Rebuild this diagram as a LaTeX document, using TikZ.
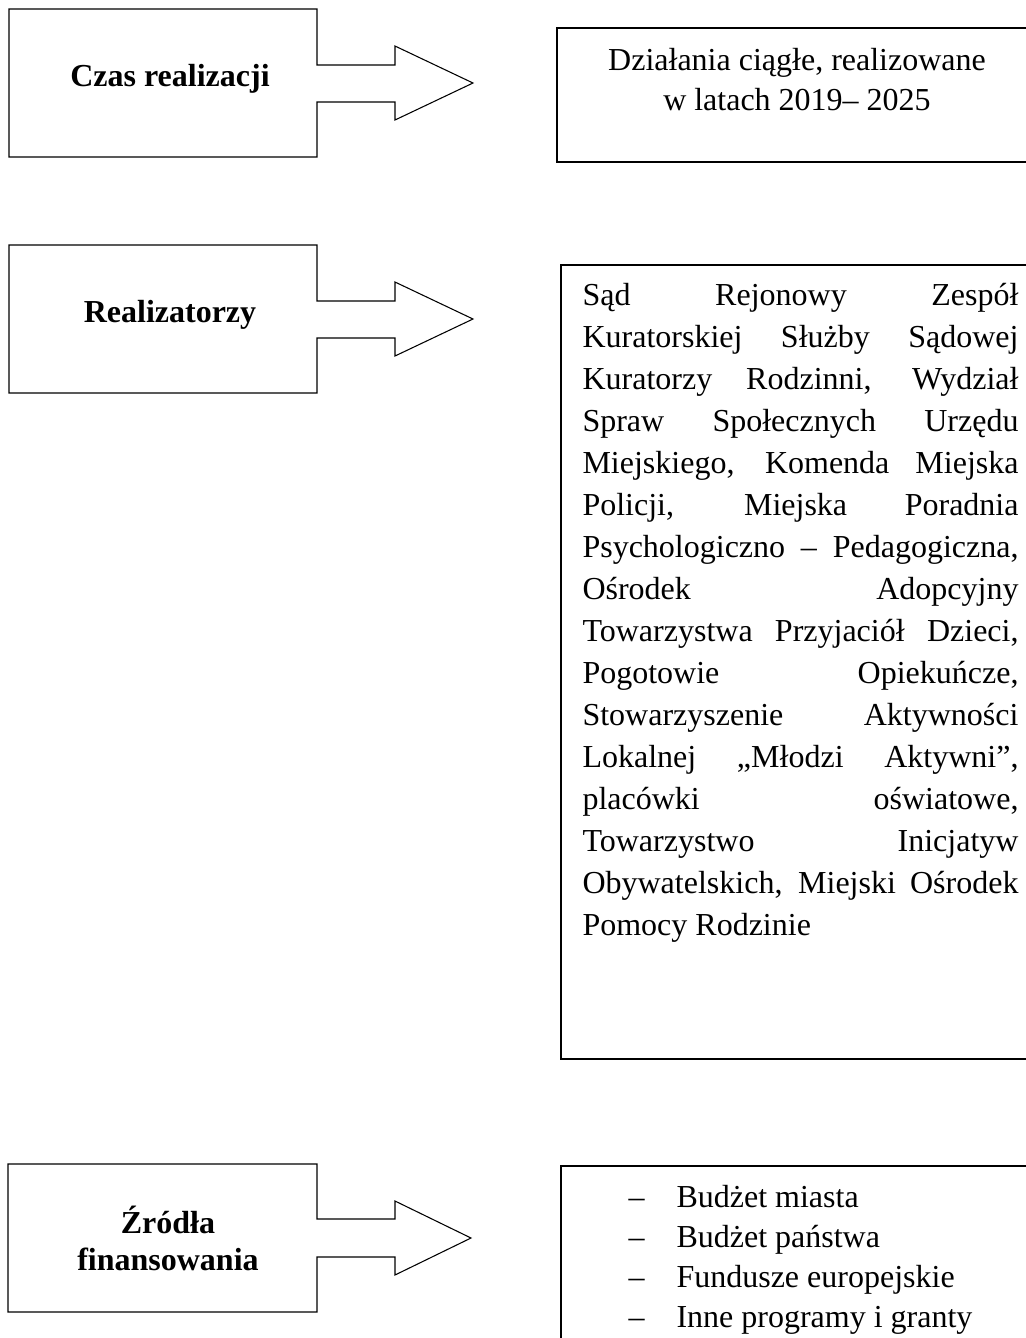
\documentclass[tikz,border=0pt,12pt]{standalone}
\usepackage{fontspec}
\setmainfont{Liberation Serif}
\newcommand{\jline}[1]{\makebox[163.5pt][s]{#1}}

\begin{document}
\begin{tikzpicture}[x=0.375pt, y=-0.375pt,
    arrowbox/.style={draw, line width=0.4pt},
    infobox/.style={draw, line width=0.75pt},
    every node/.style={inner sep=0pt}]
    \useasboundingbox (0,0) rectangle (1026,1338);
    \clip (0,0) rectangle (1026,1338);

    % Block arrows on the left
    \draw[arrowbox] (9,9) -- (317,9) -- (317,65) -- (395,65) -- (395,46) -- (473,83)
        -- (395,120) -- (395,102) -- (317,102) -- (317,157) -- (9,157) -- cycle;
    \draw[arrowbox] (9,245) -- (317,245) -- (317,301) -- (395,301) -- (395,282) -- (473,319)
        -- (395,356) -- (395,338) -- (317,338) -- (317,393) -- (9,393) -- cycle;
    \draw[arrowbox] (8,1164) -- (317,1164) -- (317,1219) -- (395,1219) -- (395,1201) -- (471,1238)
        -- (395,1275) -- (395,1257) -- (317,1257) -- (317,1312) -- (8,1312) -- cycle;

    % Boxes on the right, cut by the page edge
    \draw[infobox] (557,28) rectangle (1040,162);
    \draw[infobox] (561,265) rectangle (1040,1059);
    \draw[infobox] (561,1166) rectangle (1040,1350);

    % Labels
    \node[anchor=base, font=\bfseries] (czas) at (170,86) {Czas realizacji};
    \node[anchor=base, font=\bfseries] (realiz) at (170,322) {Realizatorzy};
    \node[anchor=north, align=center, font=\fontsize{12}{13.9}\selectfont\bfseries] (zrodla)
        at (168,1205) {\rule{0pt}{9pt}Źródła\\finansowania};

    % Contents
    \node[anchor=north, align=center, font=\fontsize{12}{15}\selectfont] (czasinfo)
        at (797,46) {\rule{0pt}{9pt}Działania ciągłe, realizowane\\w latach 2019– 2025};
    \node[anchor=north west, align=left, font=\fontsize{12}{15.75}\selectfont] (realizinfo)
        at (582,281) {\rule{0pt}{9pt}\jline{Sąd Rejonowy Zespół}\\
        \jline{Kuratorskiej Służby Sądowej}\\
        \jline{Kuratorzy Rodzinni, Wydział}\\
        \jline{Spraw Społecznych Urzędu}\\
        \jline{Miejskiego, Komenda Miejska}\\
        \jline{Policji, Miejska Poradnia}\\
        \jline{Psychologiczno – Pedagogiczna,}\\
        \jline{Ośrodek Adopcyjny}\\
        \jline{Towarzystwa Przyjaciół Dzieci,}\\
        \jline{Pogotowie Opiekuńcze,}\\
        \jline{Stowarzyszenie Aktywności}\\
        \jline{Lokalnej „Młodzi Aktywni”,}\\
        \jline{placówki oświatowe,}\\
        \jline{Towarzystwo Inicjatyw}\\
        \jline{Obywatelskich, Miejski Ośrodek}\\
        Pomocy Rodzinie};
    \foreach \src [count=\i] in {Budżet miasta, Budżet państwa, Fundusze europejskie, Inne programy i granty} {
        \node[anchor=base west] (dash-\i) at (628,{1207+40*(\i-1)}) {–};
        \node[anchor=base west] (src-\i) at (676,{1207+40*(\i-1)}) {\src};
    }
\end{tikzpicture}
\end{document}
